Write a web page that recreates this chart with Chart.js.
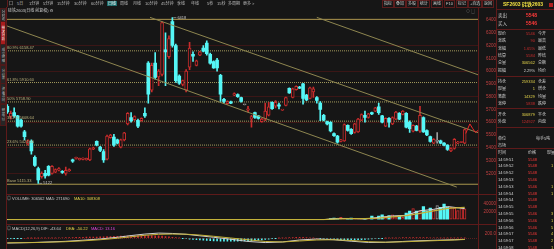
<!DOCTYPE html>
<html>
<head>
<meta charset="utf-8">
<title>硅铁2603 日线</title>
<script src="https://cdn.jsdelivr.net/npm/chart.js@4.4.1/dist/chart.umd.min.js"></script>
<style>
  html, body { margin: 0; padding: 0; }
  body { width: 554px; height: 249px; background: #161616; overflow: hidden; position: relative;
         font-family: "Liberation Sans", "Noto Sans CJK SC", "DejaVu Sans", sans-serif; color: #c4c4c4; }
  canvas { position: absolute; }
  .t { position: absolute; font-size: 4px; line-height: 5px; white-space: nowrap; }
  .ln { position: absolute; background: #5e1a1a; }
  .tab { position: absolute; left: 0; width: 4px; border: 1px solid #4a1a1a; background: #262626;
         writing-mode: vertical-rl; font-size: 3.5px; line-height: 4px; color: #b8b8b8; overflow: hidden; text-align: center; }
  .tab.on { background: #a81c1c; color: #fff; }
  .btn { position: absolute; top: 0; height: 6px; border: 1px solid #5a1c1c; font-size: 4px; line-height: 6px;
         padding: 0 1px; color: #c8c8c8; white-space: nowrap; }
</style>
</head>
<body>
<canvas id="priceChart" width="490" height="187" style="left:6px;top:7px"></canvas>
<canvas id="volChart" width="490" height="30" style="left:6px;top:194px"></canvas>
<canvas id="macdChart" width="490" height="25" style="left:6px;top:224px"></canvas>
<div id="ui"></div>
<script>
// ---- daily candles (oldest first) ----
const opens  = [5725,5645,5675,5650,5617,5525,5430,5450,5325,5237,5175,5200,5255,5200,5210,5225,5217,5200,5220,5307,
                5317,5307,5310,5307,5305,5390,5450,5405,5370,5312,5480,5485,5462,5405,5462,5587,5637,5620,5615,5612,
                5670,6062,5850,6062,5955,5975,6167,6112,6387,6200,5962,5895,5850,6030,6132,6045,6125,6180,6220,6132,
                6075,6087,5967,5780,5745,5760,5812,5817,5792,5737,5695,5625,5675,5650,5605,5625,5655,5755,5725,5737,
                5695,5732,5865,5795,5855,5875,5900,5812,5787,5837,5792,5750,5655,5605,5600,5512,5492,5450,5455,5575,
                5545,5520,5525,5617,5655,5637,5675,5687,5720,5650,5570,5630,5587,5625,5670,5662,5670,5600,5530,5570,
                5530,5637,5535,5487,5437,5450,5455,5437,5420,5375,5395,5437,5442,5437];
const highs  = [5738,5688,5712,5655,5625,5537,5462,5462,5338,5250,5212,5225,5262,5262,5235,5245,5222,5250,5235,5312,
                5328,5320,5322,5320,5398,5405,5455,5412,5387,5500,5505,5505,5468,5468,5522,5675,5675,5650,5625,5635,
                5712,6075,6062,6145,6012,6387,6300,6275,6418,6212,5970,5930,6012,6225,6150,6087,6155,6200,6237,6140,
                6080,6100,5975,5787,5767,5765,5830,5822,5797,5740,5725,5655,5680,5655,5630,5750,5755,5760,5770,5750,
                5702,5797,5870,5867,5885,5880,5905,5818,5875,5875,5800,5762,5662,5610,5605,5517,5497,5467,5587,5580,
                5550,5592,5630,5665,5687,5670,5680,5717,5750,5655,5635,5637,5642,5685,5675,5692,5675,5612,5580,5575,
                5725,5642,5540,5492,5472,5520,5460,5442,5425,5400,5472,5450,5447,5548];
const lows   = [5670,5625,5637,5562,5562,5462,5420,5350,5255,5122,5162,5162,5180,5195,5205,5220,5200,5187,5215,5285,
                5312,5303,5305,5303,5300,5385,5415,5370,5285,5305,5475,5412,5430,5400,5455,5580,5600,5615,5557,5608,
                5637,5750,5837,5937,5887,5962,5887,6100,6187,5912,5895,5885,5837,6012,6075,6040,6120,6150,6125,6055,
                6020,6000,5762,5750,5740,5745,5808,5795,5757,5735,5680,5562,5630,5625,5600,5612,5650,5700,5712,5705,
                5693,5728,5825,5790,5850,5862,5742,5768,5782,5795,5750,5612,5610,5580,5525,5490,5437,5447,5450,5530,
                5505,5515,5520,5612,5600,5632,5660,5682,5662,5595,5565,5562,5582,5620,5620,5657,5555,5520,5525,5532,
                5520,5520,5495,5445,5432,5437,5432,5415,5380,5370,5390,5432,5440,5432];
const closes = [5680,5670,5650,5570,5570,5487,5455,5375,5262,5150,5200,5180,5187,5255,5230,5237,5207,5225,5230,5295,
                5325,5317,5320,5317,5392,5400,5420,5380,5305,5492,5500,5420,5437,5462,5517,5670,5612,5645,5570,5630,
                5650,5820,6045,5950,6000,6380,6150,6255,6200,5925,5905,5925,6000,6180,6117,6080,6150,6155,6137,6062,
                6025,6025,5820,5762,5762,5750,5825,5800,5762,5737,5705,5645,5637,5630,5625,5687,5720,5707,5755,5725,
                5700,5792,5830,5862,5880,5867,5787,5775,5870,5862,5770,5700,5617,5587,5532,5495,5445,5462,5582,5537,
                5510,5587,5625,5660,5637,5665,5665,5712,5675,5600,5630,5600,5637,5680,5625,5687,5562,5550,5575,5537,
                5655,5525,5500,5450,5467,5450,5437,5420,5387,5395,5467,5445,5445,5542];
// volume per candle (the contract barely traded before index 94)
const volumes = [300,200,400,300,500,300,200,400,600,500,300,200,300,400,200,300,200,300,400,300,
                 200,300,200,300,400,300,500,300,400,600,300,400,300,400,300,500,400,300,400,300,
                 400,900,800,700,600,900,700,600,800,700,500,400,500,600,400,300,400,500,400,300,
                 400,500,700,400,300,400,300,400,300,200,300,400,300,400,300,400,300,400,300,300,
                 300,400,500,400,300,400,500,400,500,400,500,600,500,700,3000,4400,3000,6000,1200,1500,
                 4400,2000,1500,1200,1900,3000,9400,5000,9400,12500,7500,10600,12500,7500,9400,6000,16900,21900,28100,21900,
                 21900,33100,21900,29400,25000,35600,31300,39400,31300,31300,29400,23100,28100,27000];
const volMaX  = [0, 92, 96, 100, 104, 108, 112, 116, 120, 124, 128, 133];
const volMa5  = [300, 400, 3300, 3200, 2100, 5900, 9500, 11000, 22500, 26000, 33000, 27800];
const volMa10 = [300, 380, 2000, 3000, 2800, 4300, 7200, 10200, 16000, 22000, 28500, 30800];
// MACD(12,26,9) lines, sampled along the candles
const macdX   = [0, 8, 17, 22, 27, 32, 36, 40, 44, 48, 52, 56, 60, 65, 70, 75, 80, 85, 90, 95, 100, 105, 110, 115, 120, 125, 130, 133];
const difVals = [-195,-170,-125,-80,-30,40,110,170,210,195,160,100,40,-40,-130,-175,-150,-70,-30,-60,-120,-170,-165,-130,-100,-80,-60,-44];
const deaVals = [-185,-175,-140,-105,-60,0,60,120,160,170,165,130,80,10,-60,-130,-150,-110,-70,-60,-90,-140,-160,-145,-120,-95,-70,-50];
const macdHist = [-10,-8,-6,-4,-2,0,2,4, 6,8,10,12,14,16,18,20,22, 26,28,30,34,38,42,46,48,50,52,
                  56,60,64,70,76,80,84,86,90, 96,100,104,106,108,106,104,100,96, 86,70,56,40,24,10,
                  -6,-20,-34,-46,-58,-70,-80,-88,-96,-104, -110,-116,-120,-122,-120,-118,-116,-112,-108,-104,
                  -96,-86,-76,-64,-50,-34,-18,-4,8, 10,18,26,32,36,38,36,30,22,12,
                  0,-10,-20,-30,-40,-50,-56,-60,-64,-66, -68,-66,-62,-56,-48,-40,-30,-20,-10,-2,
                  4,10,14,18,22,24,26,28,28,28, 26,26,24,22,20,20,18,16,16,14, 14,13,13,13];
// Fibonacci levels and drawn trend channel (index, price)
const fibTop = 6404.7, fibBase = 5115.33;
const fibLevels = [6158.47, 5910.60, 5758.90, 5608.64, 5421.56];
const fibNames  = ['80.9% 6158.47', '61.8% 5910.60', '50% 5758.90', '38.2% 5608.64', '23.6% 5421.56'];
const trendLines = [[[-0.2, 6354], [130.7, 5093]], [[41.5, 6420], [136.9, 5518]], [[90, 6420], [136.9, 5971]]];
const liveTicks = [[133.3, 5512], [134.5, 5587], [135.3, 5552], [136.1, 5520], [136.9, 5536]];
const priceTicks = [5200, 5300, 5400, 5500, 5600, 5700, 5800, 5900, 6000, 6100, 6200, 6300, 6400];
const volTicks = [0, 20000, 40000];
const macdTicks = [0, 200];

const CYAN = '#55f6f6', RED = '#c92c2c', GRAY = '#9c9c9c', BG = '#161616';
const GOLD = '#a8974e', TREND = '#8e8650', FIB = '#a39a5c', FIB_TEXT = '#bdb27c';
const GRID_RED = '#3b1616', AXIS_RED = '#c24040', YEL = '#e2d24a', WHITE = '#cfcfcf', MAG = '#e046e0';
const FONT = '"Liberation Sans", "DejaVu Sans", sans-serif';
const X_MIN = -0.38, X_MAX = 136.87;

Chart.defaults.font.family = FONT;
const days = closes.map((_, i) => i);
const dir = days.map(i => Math.sign(closes[i] - opens[i]));
const candleCol = dir.map(d => d > 0 ? RED : d < 0 ? CYAN : GRAY);

function rightAxis(min, max, ticks, fmt, gridColor) {
    return {
        position: 'right', min: min, max: max,
        afterBuildTicks: s => { s.ticks = ticks.map(v => ({ value: v })); },
        afterFit: s => { s.width = 18; },
        border: { display: false },
        grid: { color: gridColor, drawTicks: false, lineWidth: 1 },
        ticks: { color: AXIS_RED, font: { size: 4.5 }, padding: 1, crossAlign: 'far', callback: fmt }
    };
}
const xAxis = { type: 'linear', min: X_MIN, max: X_MAX, offset: false, display: false };
const baseOptions = {
    responsive: false, animation: false, events: [],
    layout: { padding: 0 },
    datasets: { bar: { grouped: false } },
    plugins: { legend: { display: false }, tooltip: { enabled: false } }
};
const hLine = (y, color, dash, order) => ({
    type: 'line', data: [{ x: X_MIN, y: y }, { x: X_MAX, y: y }], borderColor: color, borderWidth: 1,
    borderDash: dash, pointRadius: 0, order: order
});

// text on the price pane: fib labels and the high/low markers
const priceLabels = {
    id: 'priceLabels',
    afterDatasetsDraw(chart) {
        const { ctx, scales: { x, y } } = chart;
        ctx.save();
        ctx.font = '4px ' + FONT;
        ctx.textBaseline = 'bottom';
        ctx.fillStyle = FIB_TEXT;
        fibLevels.forEach((lv, k) => ctx.fillText(fibNames[k], x.left + 1, y.getPixelForValue(lv) - 1));
        ctx.fillText('Base ' + fibBase.toFixed(2), x.left + 1, y.getPixelForValue(fibBase) - 1);
        ctx.fillStyle = '#c8c8c8';
        ctx.strokeStyle = '#c8c8c8';
        ctx.lineWidth = 0.6;
        ctx.textBaseline = 'middle';
        const hi = highs.indexOf(Math.max(...highs)), lo = lows.indexOf(Math.min(...lows));
        [[hi, highs[hi]], [lo, lows[lo]]].forEach(([i, p]) => {
            const px = x.getPixelForValue(i), py = y.getPixelForValue(p);
            ctx.beginPath(); ctx.moveTo(px + 1, py); ctx.lineTo(px + 4, py); ctx.stroke();
            ctx.fillText(String(p), px + 5, py);
        });
        ctx.restore();
    }
};

new Chart(document.getElementById('priceChart'), {
    type: 'bar',
    data: {
        datasets: [
            hLine(fibTop, GOLD, [], 6),
            hLine(fibBase, GOLD, [], 6),
            ...fibLevels.map(lv => hLine(lv, FIB, [1, 1], 6)),
            { type: 'bar', order: 3, data: days.map(i => ({ x: i, y: [lows[i], highs[i]] })),
              backgroundColor: candleCol, barThickness: 1 },
            { type: 'bar', order: 2, minBarLength: 1, borderSkipped: false, barThickness: 3,
              data: days.map(i => ({ x: i, y: [Math.min(opens[i], closes[i]), Math.max(opens[i], closes[i])] })),
              backgroundColor: days.map(i => dir[i] < 0 ? CYAN : BG), borderColor: candleCol,
              borderWidth: days.map(i => dir[i] < 0 ? 0 : 1) },
            ...trendLines.map(l => ({ type: 'line', order: 1, data: l.map(p => ({ x: p[0], y: p[1] })),
              borderColor: TREND, borderWidth: 1, pointRadius: 0 })),
            { type: 'line', order: 0, data: liveTicks.map(p => ({ x: p[0], y: p[1] })), borderColor: '#ee2a2a',
              borderWidth: 1, pointRadius: 0 }
        ]
    },
    options: Object.assign({}, baseOptions, {
        scales: {
            x: xAxis,
            y: rightAxis(5067.9, 6472.3, priceTicks, v => String(v), c => c.tick.value % 200 === 0 ? GRID_RED : 'transparent')
        }
    }),
    plugins: [priceLabels]
});

new Chart(document.getElementById('volChart'), {
    type: 'bar',
    data: {
        datasets: [
            { type: 'bar', order: 2, borderSkipped: false, barThickness: 2.6,
              data: days.map(i => ({ x: i, y: volumes[i] })),
              backgroundColor: days.map(i => dir[i] < 0 ? CYAN : BG), borderColor: candleCol,
              borderWidth: days.map(i => dir[i] < 0 ? 0 : 1) },
            { type: 'line', order: 1, data: volMaX.map((x, k) => ({ x: x, y: volMa5[k] })), borderColor: '#d8d8d8',
              borderWidth: 1, pointRadius: 0 },
            { type: 'line', order: 0, data: volMaX.map((x, k) => ({ x: x, y: volMa10[k] })), borderColor: '#c4b23a',
              borderWidth: 1.2, pointRadius: 0 }
        ]
    },
    options: Object.assign({}, baseOptions, {
        scales: {
            x: xAxis,
            y: rightAxis(-1315, 55000, volTicks, v => v === 0 ? '' : String(v), () => 'transparent')
        }
    })
});

new Chart(document.getElementById('macdChart'), {
    type: 'bar',
    data: {
        datasets: [
            { type: 'bar', order: 2, barThickness: 1, data: days.map(i => ({ x: i, y: macdHist[i] })),
              backgroundColor: macdHist.map(v => v >= 0 ? RED : CYAN) },
            { type: 'line', order: 1, data: macdX.map((x, k) => ({ x: x, y: difVals[k] })), borderColor: '#d0d0d0',
              borderWidth: 1, pointRadius: 0 },
            { type: 'line', order: 0, data: macdX.map((x, k) => ({ x: x, y: deaVals[k] })), borderColor: '#c4b23a',
              borderWidth: 1, pointRadius: 0 }
        ]
    },
    options: Object.assign({}, baseOptions, {
        scales: {
            x: xAxis,
            y: Object.assign(rightAxis(-285.7, 428.6, macdTicks, v => v === 0 ? '' : v.toFixed(1),
                c => c.tick.value === 0 ? '#5a2020' : 'transparent'), { border: { display: false, dash: [1, 1] } })
        }
    })
});

// ---- surrounding panels (toolbar, side tabs, quote panel) ----
const ui = document.getElementById('ui');
function txt(s, x, y, color, extra) {
    const el = document.createElement('div');
    el.className = 't';
    el.textContent = s;
    el.style.left = x + 'px';
    el.style.top = (y - 2.5) + 'px';
    if (color) el.style.color = color;
    if (extra) Object.assign(el.style, extra);
    ui.appendChild(el);
    return el;
}
function line(x, y, w, h, color) {
    const el = document.createElement('div');
    el.className = 'ln';
    Object.assign(el.style, { left: x + 'px', top: y + 'px', width: w + 'px', height: h + 'px' });
    if (color) el.style.background = color;
    ui.appendChild(el);
}

const periods = [['5日', 17], ['1分钟', 29], ['5分钟', 43], ['15分钟', 57], ['30分钟', 74], ['60分钟', 91], ['日线', 107],
                 ['周线', 120], ['月线', 133], ['10分钟', 145], ['45分钟', 161], ['季线', 177], ['年线', 191], ['5秒', 207],
                 ['15秒', 217], ['多周期', 228], ['更多 >', 243]];
periods.forEach(([s, x]) => {
    const el = txt(s, x, 3.5, '#bdbdbd');
    if (s === '日线') Object.assign(el.style, { background: '#1d6d6d', color: '#fff', padding: '0 1px' });
});
txt('口', 9, 3.5, '#bdbdbd');
line(7, 0, 1, 7);
const tools = [['指标', 382], ['叠加', 394], ['多股', 406], ['统计', 418], ['画线', 431], ['F10', 444], ['标记', 456], ['+自选', 468], ['返回', 482]];
tools.forEach(([s, x]) => {
    const el = document.createElement('div');
    el.className = 'btn';
    el.textContent = s;
    el.style.left = x + 'px';
    ui.appendChild(el);
});
txt('硅铁2603(日线 前复权) ⚙', 8, 10, '#c8c8c8');
txt('◇ ▢', 466, 11, '#9a9a9a');

const tabs = [['分时走势', 8, 12, false], ['技术分析', 21, 22, true], ['成交明细', 44, 19, false], ['分价表', 65, 17, false],
              ['资金流向', 83, 19, false], ['研报F10', 104, 20, false]];
tabs.forEach(([s, y, h, on]) => {
    const el = document.createElement('div');
    el.className = 'tab' + (on ? ' on' : '');
    el.textContent = s;
    el.style.top = y + 'px';
    el.style.height = h + 'px';
    ui.appendChild(el);
});

// pane frame
line(6, 7, 1, 242);
line(478, 7, 1, 242);
line(6, 194, 490, 1);
line(6, 224, 490, 1);
line(496, 0, 1, 249);

txt('◎ VOLUME: 306562  MA5: 271690', 7, 198.5, '#c8c8c8');
txt('MA10: 308308', 74, 198.5, YEL);
txt('◎ MACD(12,26,9)  DIF: -43.64', 7, 228, '#c8c8c8');
txt('DEA: -50.22', 66, 228, YEL);
txt('MACD: 13.16', 91, 228, MAG);

// quote panel
const quoteRows = [['现价', '5546', '今开', RED, 33], ['涨跌', '90', '最高', RED, 40.5], ['涨幅', '1.65%', '最低', RED, 48],
                   ['结算', '5584', '昨结', RED, 55], ['总量', '306562', '总额', YEL, 62.5], ['振幅', '2.29%', '均价', WHITE, 70],
                   ['持仓', '259334', '仓差', YEL, 81], ['现量', '1', '增仓', YEL, 88.5], ['笔数', '14329', '均量', YEL, 96],
                   ['涨停', '5838', '跌停', RED, 103], ['开仓', '306879', '平仓', YEL, 114], ['外盘', '124927', '内盘', RED, 121.5]];
const tradeTimes  = ['14:59:51', '14:59:52', '14:59:52', '14:59:53', '14:59:53', '14:59:54', '14:59:54',
                     '14:59:55', '14:59:55', '14:59:56', '14:59:56', '14:59:57', '14:59:57', '14:59:58'];
const tradePrices = ['5548', '5548', '5548', '5546', '5546', '5548', '5548', '5548', '5546', '5546', '5546', '5546', '5548', '5548'];
const tradeVols   = ['', '1', '', '', '1', '1', '', '', '3', '1', '5', '4', '2', '1'];

txt('SF2603 硅铁2603', 503, 4.5, '#f0e040', { fontWeight: 'bold', fontSize: '5px' });
line(549, 3, 4, 4, '#b02020');
line(497, 9, 57, 1);
txt('卖出', 498, 15, '#d0d0d0', { fontSize: '4.5px' });
txt('5548', 526, 15, '#ff3a3a', { fontWeight: 'bold', fontSize: '5px' });
txt('买入', 498, 23, '#d0d0d0', { fontSize: '4.5px' });
txt('5546', 526, 23, '#ff3a3a', { fontWeight: 'bold', fontSize: '5px' });
[28.5, 75.5, 108, 126.5, 148].forEach(y => line(497, y, 57, 1));
quoteRows.forEach(([a, v, b, c, y]) => {
    txt(a, 498, y, '#cfcfcf');
    txt(v, 512, y, c, { width: '23px', textAlign: 'right' });
    txt(b, 538, y, '#cfcfcf');
});
txt('单位', 498, 138, '#cfcfcf');
txt('每手5吨', 536, 138, '#cfcfcf');
txt('市场', 498, 145, '#cfcfcf');
txt('时间', 498, 152.5, '#cfcfcf');
txt('价格', 528, 152.5, '#cfcfcf');
txt('现量', 547, 152.5, '#cfcfcf');
tradeTimes.forEach((t, k) => {
    const y = 159 + k * 6.8;
    txt(t, 498, y, '#d8d8d8');
    txt(tradePrices[k], 528, y, '#ff3a3a');
    txt(tradeVols[k], 551, y, YEL);
});
</script>
</body>
</html>
